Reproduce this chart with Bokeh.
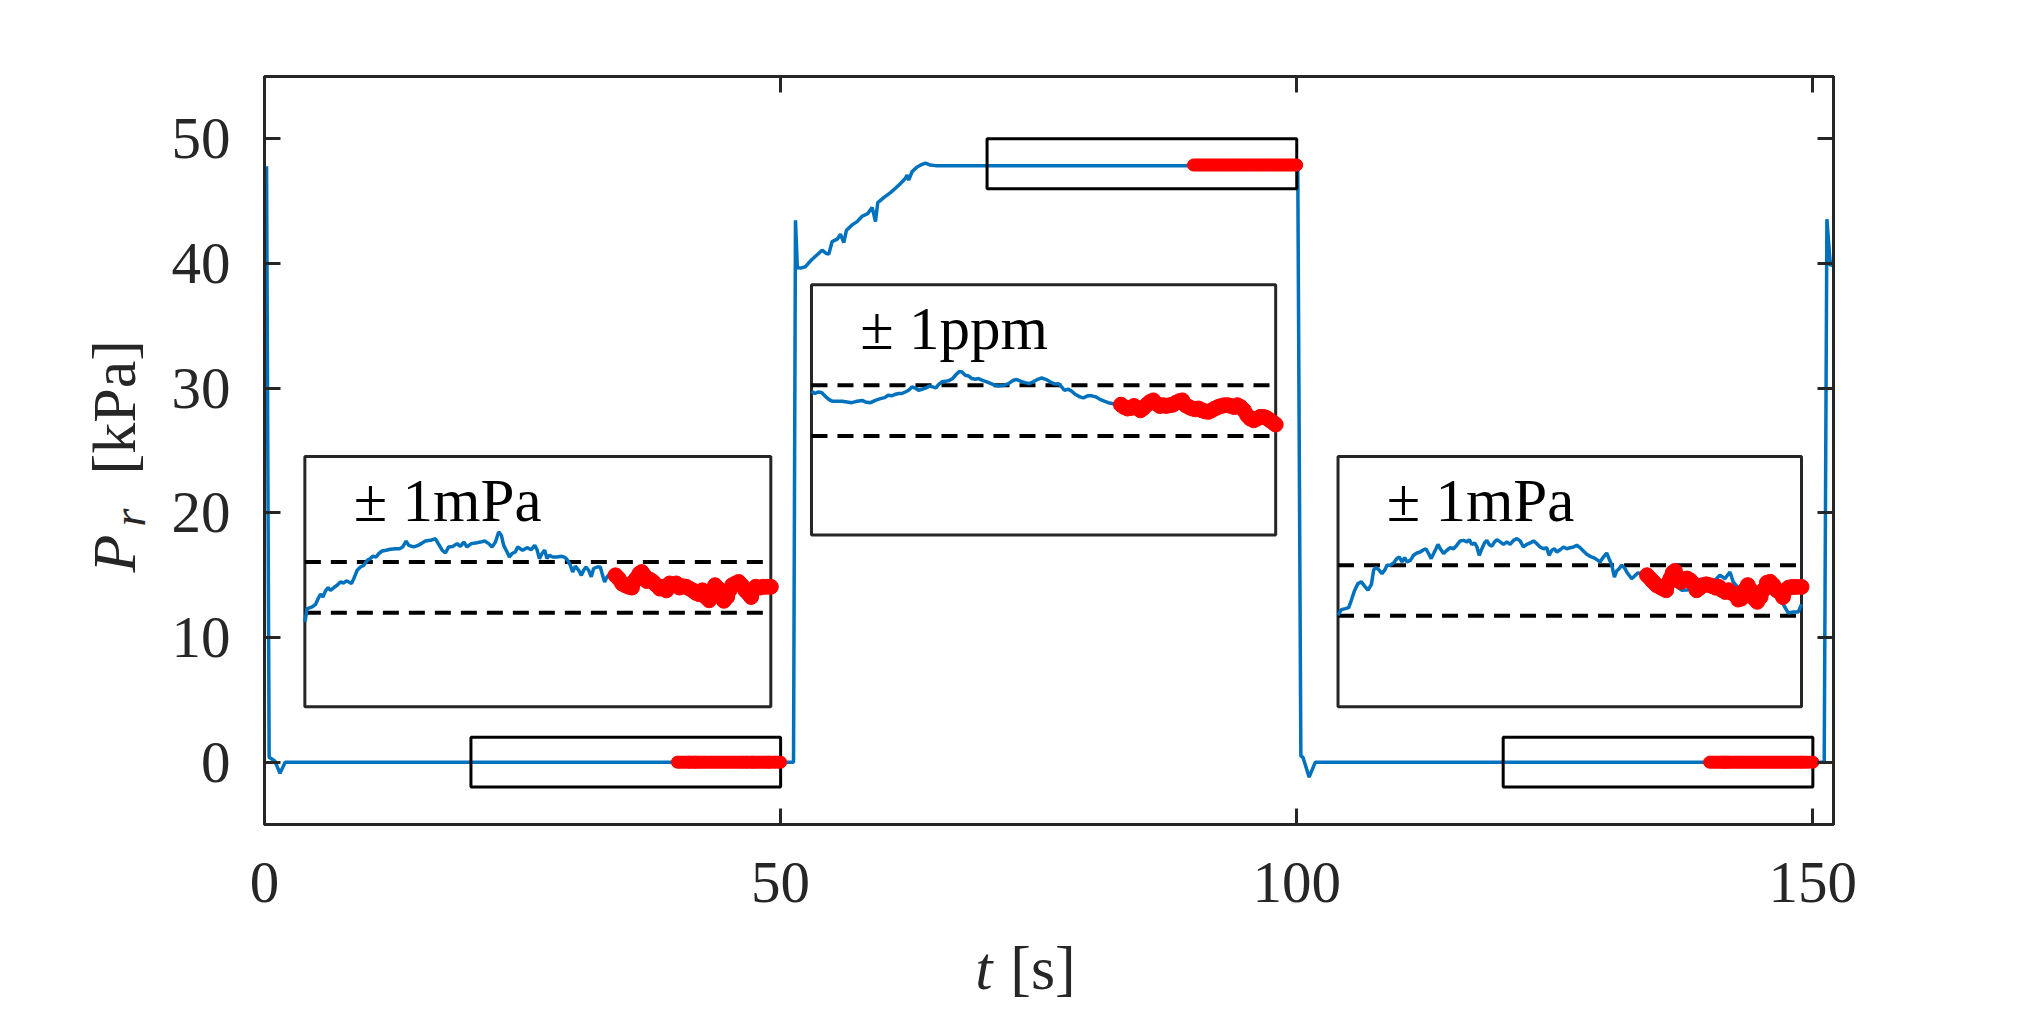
import numpy as np
from bokeh.plotting import figure
from bokeh.layouts import row, column
from bokeh.models import Range1d, LinearAxis, FixedTicker, Label
from bokeh.core.properties import value
from bokeh.embed import file_html
from bokeh.resources import INLINE

AX = "#262626"
BLUE = "#0072BD"
RED = "#FF0000"
FONT = "Liberation Serif"

# ---------------- main signal (t [s], P [kPa]) ----------------
t_main = [0.2, 0.45, 1.0, 1.5, 2.0, 51.25, 51.44, 51.62, 51.93, 52.41, 52.9, 53.54, 54.02,
          54.44, 54.67, 54.99, 55.48, 55.8, 56.12, 56.38, 56.93, 57.41, 57.9, 58.44, 58.86,
          59.03, 59.19, 59.41, 59.99, 60.64, 61.12, 61.61, 62.09, 62.25, 62.41, 62.74, 63.22,
          63.71, 64.03, 64.51, 65.0, 100.1, 100.4, 100.6, 101.2, 101.8, 151.1, 151.36, 151.7, 152.0]
p_main = [47.8, 0.4, 0.1, -0.9, 0.0, 0.0, 43.47, 39.68, 39.63, 39.74, 40.22, 40.70, 41.07,
          40.8, 40.75, 41.76, 41.95, 42.35, 41.68, 42.67, 43.1, 43.36, 43.79, 44.0, 44.49,
          43.95, 43.36, 44.88, 45.29, 45.69, 46.04, 46.41, 46.84, 47.1, 46.68, 47.37, 47.74,
          47.96, 48.06, 47.9, 47.85, 47.85, 0.5, 0.4, -1.2, 0.0, 0.0, 43.55, 39.8, 40.2]

# ---------------- zoom windows ----------------
zoom_t0 = [20, 70, 120]
zoom_t1 = [50, 100, 150]
zoom_p0 = [-2, 46, -2]
zoom_p1 = [2, 50, 2]
level = [0.0, 47.9, 0.0]            # kPa reference level of each window
unit_to_kpa = [1e-6, 47.9e-6, 1e-6]  # mPa -> kPa, ppm -> kPa

# inset boxes (main axes coordinates) and inset y limits (mPa / ppm)
inset_left = [3.91, 52.99, 104.0]
inset_right = [49.05, 97.96, 148.9]
inset_bottom = [4.45, 18.22, 4.45]
inset_top = [24.52, 38.29, 24.52]
inset_ylo = [-4.7, -4.9, -4.6]
inset_yhi = [5.15, 4.95, 5.3]
inset_text = ["\u00b1 1mPa", "\u00b1 1ppm", "\u00b1 1mPa"]
band = [-1.0, 1.0]

# ---------------- inset 1 (deviation, mPa) ----------------
blue1_t = [20.00, 20.15, 20.47, 20.69, 20.86, 21.01, 21.16, 21.33, 21.50, 21.65, 21.87, 22.08, 22.29,
           22.51, 22.66, 22.83, 23.00, 23.15, 23.37, 23.58, 23.80, 24.01, 24.22, 24.37, 24.59, 24.76,
           24.98, 25.23, 25.51, 25.83, 26.09, 26.30, 26.52, 26.69, 27.01, 27.29, 27.55, 27.76, 28.08,
           28.41, 28.62, 28.84, 29.05, 29.26, 29.52, 29.80, 30.01, 30.23, 30.44, 30.72, 30.98, 31.30,
           31.58, 31.84, 32.05, 32.27, 32.48, 32.65, 32.80, 33.02, 33.17, 33.34, 33.55, 33.70, 33.87,
           34.02, 34.30, 34.58, 34.80, 34.95, 35.10, 35.27, 35.44, 35.59, 35.74, 35.95, 36.23, 36.55,
           36.77, 36.94, 37.09, 37.24, 37.41, 37.63, 37.80, 37.95, 38.10, 38.27, 38.44, 38.59, 38.81,
           39.02, 39.17, 39.30, 39.45, 39.66]
blue1_v = [-1.36, -0.84, -0.77, -0.67, -0.44, -0.27, -0.38, -0.14, -0.01, -0.12,
           -0.01, 0.08, 0.21, 0.17, 0.25, 0.21, 0.15, 0.34, 0.67, 0.80,
           0.87, 1.06, 1.13, 1.22, 1.19, 1.33, 1.43, 1.46, 1.50, 1.52,
           1.52, 1.59, 1.82, 1.65, 1.59, 1.65, 1.74, 1.82, 1.85, 1.91,
           1.69, 1.46, 1.35, 1.59, 1.61, 1.72, 1.61, 1.78, 1.59, 1.72,
           1.74, 1.78, 1.82, 1.72, 1.59, 1.78, 2.18, 2.05, 1.65, 1.39,
           1.19, 1.33, 1.39, 1.59, 1.52, 1.46, 1.56, 1.48, 1.65, 1.48,
           1.13, 1.33, 1.46, 1.13, 1.26, 1.19, 1.19, 1.22, 1.17, 1.04,
           0.87, 0.60, 0.83, 0.67, 0.47, 0.67, 0.80, 0.67, 0.41, 0.74,
           0.80, 0.80, 0.47, 0.21, 0.41, 0.54]
red1_t = [40.00, 40.21, 40.42, 40.63, 40.85, 41.06, 41.16, 41.33, 41.54, 41.69, 41.84, 42.01, 42.22,
          42.43, 42.64, 42.85, 43.07, 43.28, 43.49, 43.70, 43.91, 44.12, 44.33, 44.55, 44.76, 44.97,
          45.18, 45.39, 45.60, 45.81, 46.03, 46.24, 46.41, 46.62, 46.77, 46.98, 47.19, 47.34, 47.51,
          47.72, 47.93, 48.14, 48.35, 48.56, 48.73, 48.88, 49.03, 49.30, 49.51, 49.73, 50.00]
red1_v = [0.47, 0.34, 0.15, 0.08, 0.02, -0.01, 0.21, 0.34, 0.54, 0.60,
          0.47, 0.25, 0.30, 0.21, 0.08, -0.05, 0.02, -0.12, 0.15, 0.08,
          0.15, -0.01, 0.04, 0.02, -0.05, -0.12, -0.22, -0.27, -0.12, -0.38,
          -0.51, -0.12, 0.08, -0.05, -0.38, -0.53, -0.38, -0.12, 0.08, 0.15,
          0.21, 0.08, -0.12, -0.25, -0.38, -0.12, 0.02, -0.01, 0.02, 0.02, 0.02]

# ---------------- inset 2 (deviation, ppm) ----------------
blue2_t = [70.00, 70.22, 70.43, 70.65, 70.86, 71.12, 71.33, 71.66, 71.98, 72.30, 72.62, 72.95, 73.27,
           73.48, 73.81, 74.13, 74.45, 74.73, 74.95, 75.16, 75.38, 75.63, 75.85, 76.06, 76.28, 76.49,
           76.71, 76.92, 77.14, 77.40, 77.61, 77.83, 78.04, 78.21, 78.43, 78.65, 78.90, 79.12, 79.33,
           79.55, 79.72, 79.94, 80.15, 80.37, 80.58, 80.80, 81.05, 81.33, 81.61, 81.87, 82.09, 82.41,
           82.73, 83.05, 83.27, 83.55, 83.81, 84.06, 84.34, 84.62, 84.88, 85.14, 85.42, 85.70, 85.96,
           86.17, 86.34, 86.60, 86.82, 87.07, 87.35, 87.57, 87.85, 88.11, 88.37, 88.64, 88.92, 89.18,
           89.50, 89.72]
blue2_v = [0.76, 0.67, 0.73, 0.71, 0.58, 0.44, 0.37, 0.37, 0.37, 0.34,
           0.31, 0.37, 0.40, 0.34, 0.31, 0.40, 0.47, 0.51, 0.60, 0.58,
           0.63, 0.67, 0.67, 0.73, 0.80, 0.93, 0.89, 0.80, 0.84, 0.89,
           0.97, 0.93, 0.89, 1.02, 1.13, 1.15, 1.18, 1.26, 1.41, 1.54,
           1.52, 1.39, 1.36, 1.26, 1.23, 1.26, 1.19, 1.13, 1.06, 0.99,
           0.97, 0.99, 1.06, 1.19, 1.22, 1.15, 1.10, 1.06, 1.13, 1.23,
           1.28, 1.23, 1.13, 1.05, 1.06, 0.93, 0.80, 0.84, 0.76, 0.63,
           0.54, 0.50, 0.58, 0.58, 0.54, 0.44, 0.37, 0.31, 0.27, 0.25]
red2_t = [90.00, 90.21, 90.42, 90.63, 90.84, 91.05, 91.26, 91.46, 91.67, 91.88, 92.09, 92.30, 92.51,
          92.72, 92.93, 93.14, 93.35, 93.56, 93.77, 93.97, 94.18, 94.39, 94.60, 94.81, 95.02, 95.23,
          95.44, 95.65, 95.86, 96.07, 96.28, 96.49, 96.69, 96.90, 97.11, 97.32, 97.53, 97.74, 97.95,
          98.16, 98.37, 98.58, 98.79, 99.00, 99.21, 99.41, 99.62, 99.83, 100.00]
red2_v = [0.23, 0.14, 0.08, 0.10, 0.18, 0.10, 0.01, 0.10, 0.23, 0.34,
          0.40, 0.27, 0.18, 0.21, 0.18, 0.21, 0.23, 0.31, 0.37, 0.40,
          0.21, 0.14, 0.08, 0.05, 0.08, 0.01, -0.03, -0.05, 0.01, 0.08,
          0.14, 0.18, 0.21, 0.21, 0.18, 0.14, 0.21, 0.14, 0.01, -0.19,
          -0.32, -0.38, -0.32, -0.25, -0.25, -0.29, -0.38, -0.47, -0.55]

# ---------------- inset 3 (deviation, mPa) ----------------
blue3_t = [120.00, 120.22, 120.47, 120.69, 120.86, 121.08, 121.29, 121.51, 121.72, 121.94,
           122.16, 122.31, 122.46, 122.63, 122.84, 123.02, 123.17, 123.38, 123.60, 123.81,
           123.97, 124.14, 124.31, 124.46, 124.68, 124.89, 125.11, 125.32, 125.54, 125.69,
           125.86, 126.03, 126.19, 126.34, 126.47, 126.62, 126.83, 127.05, 127.26, 127.48,
           127.69, 127.91, 128.13, 128.34, 128.49, 128.66, 128.84, 128.99, 129.14, 129.31,
           129.48, 129.63, 129.78, 129.96, 130.13, 130.28, 130.50, 130.71, 130.93, 131.14,
           131.36, 131.57, 131.79, 132.00, 132.22, 132.44, 132.65, 132.87, 133.08, 133.30,
           133.51, 133.66, 133.84, 134.01, 134.16, 134.38, 134.59, 134.81, 135.02, 135.24,
           135.45, 135.67, 135.88, 136.10, 136.31, 136.53, 136.75, 136.96, 137.18, 137.39,
           137.54, 137.72, 137.89, 138.04, 138.19, 138.36, 138.53, 138.69, 138.84, 139.01,
           139.18, 139.40, 139.61,
           139.87, 140.30, 140.73, 141.16, 141.81, 142.24, 142.78, 143.32, 143.97, 144.40,
           144.72, 145.04, 145.37, 145.58, 146.01, 146.55, 147.20, 147.85, 148.49, 148.82,
           149.14, 149.46, 149.79, 150.00]
blue3_v = [-0.98, -0.76, -0.72, -0.68, -0.39, 0.01, 0.27, 0.34, 0.17, 0.01,
           0.24, 0.82, 0.90, 0.82, 0.67, 0.80, 1.00, 1.00, 1.09, 1.26,
           1.32, 1.13, 1.30, 1.13, 1.19, 1.39, 1.48, 1.52, 1.61, 1.65,
           1.46, 1.26, 1.46, 1.65, 1.82, 1.65, 1.46, 1.59, 1.69, 1.65,
           1.79, 1.96, 1.98, 1.92, 2.01, 1.82, 1.88, 1.72, 1.39, 1.65,
           1.88, 1.98, 1.82, 1.75, 1.92, 2.01, 1.92, 1.82, 1.92, 1.82,
           1.98, 2.05, 1.96, 1.72, 1.82, 1.88, 1.96, 1.85, 1.72, 1.65,
           1.69, 1.39, 1.59, 1.65, 1.52, 1.61, 1.72, 1.65, 1.69, 1.72,
           1.79, 1.69, 1.56, 1.43, 1.35, 1.30, 1.22, 1.13, 1.32, 1.48,
           1.26, 1.00, 0.53, 0.77, 0.86, 1.00, 0.90, 0.73, 0.60, 0.47,
           0.56, 0.69, 0.67,
           0.47, 0.27, 0.11, 0.07, 0.21, 0.01, 0.03, 0.21, 0.27, 0.40,
           0.60, 0.47, 0.73, 0.34, 0.01, 0.01, -0.12, 0.01, -0.32, -0.55,
           -0.89, -0.85, -0.85, -0.55]
red3_t = [140.00, 140.21, 140.41, 140.62, 140.83, 141.04, 141.24, 141.35, 141.51, 141.66,
          141.80, 141.97, 142.17, 142.38, 142.59, 142.80, 143.00, 143.21, 143.42, 143.62,
          143.83, 144.04, 144.24, 144.45, 144.66, 144.87, 145.07, 145.28, 145.49, 145.69,
          145.90, 146.11, 146.31, 146.52, 146.73, 146.94, 147.14, 147.35, 147.56, 147.76,
          147.97, 148.18, 148.39, 148.59, 148.80, 148.96, 149.17, 149.42, 149.67, 150.00]
red3_v = [0.60, 0.47, 0.34, 0.21, 0.14, 0.07, 0.01, 0.27, 0.47, 0.69,
          0.77, 0.56, 0.34, 0.40, 0.47, 0.40, 0.27, 0.01, 0.11, 0.21,
          0.24, 0.21, 0.17, 0.11, 0.14, 0.01, -0.06, 0.01, -0.10, -0.15,
          -0.36, -0.32, 0.01, 0.21, 0.01, -0.32, -0.45, -0.26, 0.03, 0.30,
          0.34, 0.21, 0.01, -0.06, -0.26, 0.01, 0.11, 0.14, 0.14, 0.14]

blue_t = [blue1_t + red1_t, blue2_t + red2_t, blue3_t]
blue_v = [blue1_v + red1_v, blue2_v + red2_v, blue3_v]
red_t = [red1_t, red2_t, red3_t]
red_v = [red1_v, red2_v, red3_v]

x_ticks = [0, 50, 100, 150]
y_ticks = [0, 10, 20, 30, 40, 50]
x_label_parts = ["t", "[s]"]
y_label_parts = ["P", "r", "[kPa]"]

# ---------------- layout sizes (px) ----------------
YLAB_W = 160
XLAB_H = 70
P_BORDER_LEFT = 104
P_BORDER_TOP = 76
P_BORDER_RIGHT = 170
P_BORDER_BOTTOM = 110
FRAME_W = 1569
FRAME_H = 748
P_W = P_BORDER_LEFT + FRAME_W + P_BORDER_RIGHT
P_H = P_BORDER_TOP + FRAME_H + P_BORDER_BOTTOM
TOTAL_H = P_H + XLAB_H
LAB_SIZE = 62
BASE_SHIFT = 21          # renderer places the alphabetic baseline ~0.34em low

# ---------------- main figure ----------------
p = figure(frame_width=FRAME_W, frame_height=FRAME_H, x_range=Range1d(0, 152), y_range=Range1d(-5, 55),
           output_backend="svg", toolbar_location=None,
           min_border_left=P_BORDER_LEFT, min_border_top=P_BORDER_TOP,
           min_border_right=P_BORDER_RIGHT, min_border_bottom=P_BORDER_BOTTOM)
p.background_fill_color = "white"
p.border_fill_color = "white"
p.xgrid.visible = False
p.ygrid.visible = False
p.outline_line_color = AX
p.outline_line_width = 3

p.add_layout(LinearAxis(), "above")
p.add_layout(LinearAxis(), "right")


def style_axis(ax, ticks, show):
    ax.ticker = FixedTicker(ticks=ticks)
    ax.axis_line_color = AX
    ax.axis_line_width = 3
    ax.major_tick_line_color = AX
    ax.major_tick_line_width = 3
    ax.major_tick_in = 16
    ax.major_tick_out = 0
    ax.minor_tick_line_color = None
    ax.major_label_text_font = FONT
    ax.major_label_text_font_size = "59px"
    ax.major_label_text_color = AX
    if not show:
        ax.major_label_overrides = {tk: "" for tk in ticks}
        ax.major_label_text_color = None


style_axis(p.below[0], x_ticks, True)
style_axis(p.above[0], x_ticks, False)
style_axis(p.left[0], y_ticks, True)
style_axis(p.right[0], y_ticks, False)
p.below[0].major_label_standoff = 38
p.left[0].major_label_standoff = 34

# main signal
p.line(t_main, p_main, line_color=BLUE, line_width=3.5)

# zoom rectangles
p.quad(left=zoom_t0, right=zoom_t1, bottom=zoom_p0, top=zoom_p1,
       fill_color=None, line_color="black", line_width=3)

# main red markers (same samples as insets, converted to kPa)
for i in range(3):
    pm = [level[i] + v * unit_to_kpa[i] for v in red_v[i]]
    p.scatter(red_t[i], pm, size=12, marker="circle", fill_color=RED, line_color=RED)


def inset_map(i, t, v):
    L, R = inset_left[i], inset_right[i]
    B, T = inset_bottom[i], inset_top[i]
    x0, x1 = zoom_t0[i], zoom_t1[i]
    y0, y1 = inset_ylo[i], inset_yhi[i]
    t = np.asarray(t, dtype=float)
    v = np.asarray(v, dtype=float)
    return L + (t - x0) / (x1 - x0) * (R - L), B + (v - y0) / (y1 - y0) * (T - B)


for i in range(3):
    p.quad(left=[inset_left[i]], right=[inset_right[i]], bottom=[inset_bottom[i]], top=[inset_top[i]],
           fill_color="white", line_color=AX, line_width=3)
    for b in band:
        bx, by = inset_map(i, [zoom_t0[i], zoom_t1[i]], [b, b])
        p.line(bx, by, line_color="black", line_width=4, line_dash="16 10")
    bx, by = inset_map(i, blue_t[i], blue_v[i])
    p.line(bx, by, line_color=BLUE, line_width=3.5)
    rx, ry = inset_map(i, red_t[i], red_v[i])
    p.scatter(rx, ry, size=15, marker="circle", fill_color=RED, line_color=RED)
    tx, ty = inset_map(i, [zoom_t0[i] + 0.105 * (zoom_t1[i] - zoom_t0[i])],
                       [inset_ylo[i] + 0.825 * (inset_yhi[i] - inset_ylo[i])])
    p.add_layout(Label(x=float(tx[0]), y=float(ty[0]), text=inset_text[i], text_font=FONT,
                       text_font_size="61px", text_color="black", text_align="left",
                       text_baseline="alphabetic"))


def label_fig(w, h):
    f = figure(width=w, height=h, x_range=Range1d(0, w), y_range=Range1d(0, h),
               x_axis_type=None, y_axis_type=None, output_backend="svg", toolbar_location=None,
               min_border=0)
    f.xgrid.visible = False
    f.ygrid.visible = False
    f.outline_line_color = None
    f.background_fill_color = "white"
    f.border_fill_color = "white"
    return f


# y axis label: P_r [kPa] (rotated, reading upwards)
fy = label_fig(YLAB_W, TOTAL_H)
fy.text(x=[134 - BASE_SHIFT], y=[TOTAL_H - 572], text=[y_label_parts[0]], angle=np.pi / 2,
        text_font=value(FONT), text_font_style="italic", text_font_size=value(f"{LAB_SIZE}px"),
        text_color=AX, text_align="left", text_baseline="alphabetic")
fy.text(x=[145 - 16], y=[TOTAL_H - 526], text=[y_label_parts[1]], angle=np.pi / 2,
        text_font=value(FONT), text_font_style="italic", text_font_size=value("46px"),
        text_color=AX, text_align="left", text_baseline="alphabetic")
fy.text(x=[134 - BASE_SHIFT], y=[TOTAL_H - 474], text=[y_label_parts[2]], angle=np.pi / 2,
        text_font=value(FONT), text_font_size=value(f"{LAB_SIZE}px"),
        text_color=AX, text_align="left", text_baseline="alphabetic")

# x axis label: t [s]
fx = label_fig(P_W, XLAB_H)
x_base = XLAB_H - (988 - BASE_SHIFT - P_H)
fx.text(x=[995 - YLAB_W], y=[x_base], text=[x_label_parts[0]],
        text_font=value(FONT), text_font_style="italic", text_font_size=value(f"{LAB_SIZE}px"),
        text_color=AX, text_align="left", text_baseline="alphabetic")
fx.text(x=[1036 - YLAB_W], y=[x_base], text=[x_label_parts[1]],
        text_font=value(FONT), text_font_size=value(f"{LAB_SIZE}px"),
        text_color=AX, text_align="left", text_baseline="alphabetic")

layout = row(fy, column(p, fx, spacing=0), spacing=0)

open("out.html", "w").write(file_html(layout, INLINE))
